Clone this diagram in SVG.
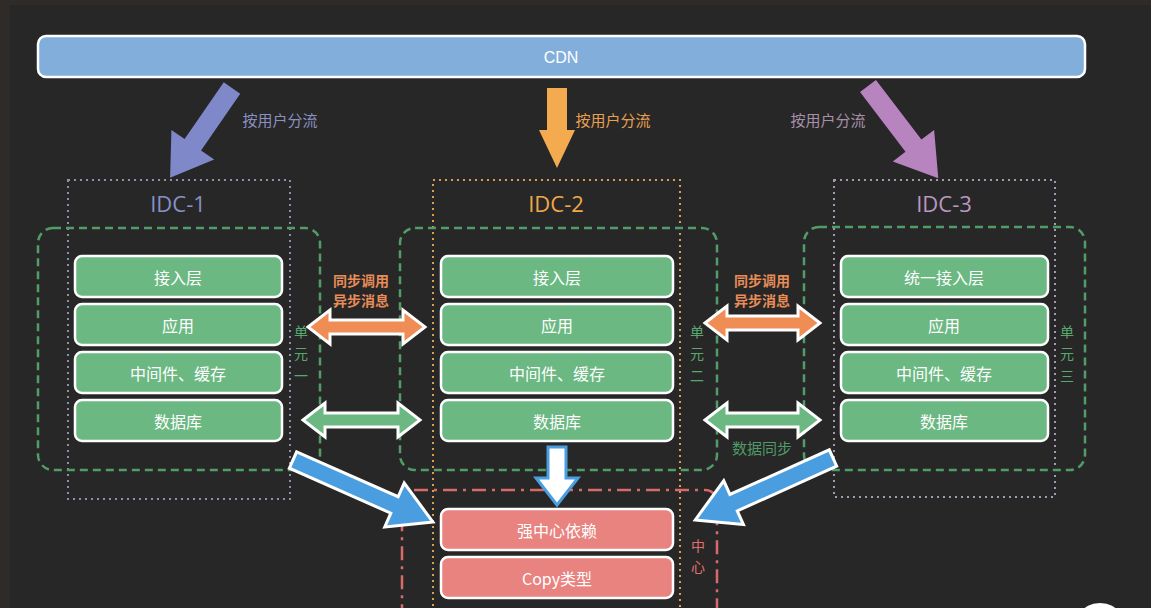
<svg xmlns="http://www.w3.org/2000/svg" width="1151" height="608" viewBox="0 0 1151 608">
<style>
text{font-family:"Noto Sans CJK SC","Liberation Sans",sans-serif;text-anchor:middle;dominant-baseline:central}
.layer{fill:#6bb882;stroke:#ffffff;stroke-width:2.5}
.red{fill:#e8837f;stroke:#ffffff;stroke-width:2.5}
.lbl{fill:#ffffff;font-size:16px}
.unit{fill:none;stroke:#519c68;stroke-width:2.5;stroke-dasharray:8 5}
.idc{fill:none;stroke-width:2;stroke-dasharray:2 4}
.idct{font-family:"Open Sans","Liberation Sans",sans-serif;font-size:22px}
.vt{font-size:14px}
.dbl{stroke:#ffffff;stroke-width:3;stroke-linejoin:miter}
.flow{font-size:15px}
.sync{font-size:14px;font-weight:bold;fill:#e88c58}
</style>
<rect x="0" y="0" width="1151" height="608" fill="#272727"/>
<rect x="0" y="0" width="1151" height="5" fill="#2f2b28"/>
<rect x="0" y="0" width="10" height="608" fill="#2f2b28"/>

<g id="cdn">
<rect x="38" y="36" width="1047" height="41" rx="8" fill="#82aedb" stroke="#ffffff" stroke-width="2.5"/>
<text x="561" y="57" class="lbl" style="font-family:'Liberation Sans',sans-serif">CDN</text>
</g>

<g id="idc1">
<rect x="68" y="180" width="222" height="319" class="idc" stroke="#8e90aa"/>
<text x="178" y="203" class="idct" fill="#8890c8">IDC-1</text>
</g>
<g id="idc2">
<rect x="433" y="180" width="247" height="440" class="idc" stroke="#d9a050"/>
<text x="556" y="203" class="idct" fill="#f0a848">IDC-2</text>
</g>
<g id="idc3">
<rect x="834" y="180" width="221" height="317" class="idc" stroke="#a898b0"/>
<text x="944" y="203" class="idct" fill="#b898c0">IDC-3</text>
</g>

<g id="unit1">
<rect x="38" y="228" width="282" height="242" rx="15" class="unit"/>
<text x="301" y="331" class="vt" fill="#5aa870">单</text>
<text x="301" y="353" class="vt" fill="#5aa870">元</text>
<text x="301" y="375" class="vt" fill="#5aa870">一</text>
</g>
<g id="unit2">
<rect x="400" y="228" width="317" height="242" rx="15" class="unit"/>
<text x="697" y="331" class="vt" fill="#5aa870">单</text>
<text x="697" y="353" class="vt" fill="#5aa870">元</text>
<text x="697" y="375" class="vt" fill="#5aa870">二</text>
</g>
<g id="unit3">
<rect x="804" y="227" width="281" height="243" rx="15" class="unit"/>
<text x="1067" y="331" class="vt" fill="#5aa870">单</text>
<text x="1067" y="353" class="vt" fill="#5aa870">元</text>
<text x="1067" y="375" class="vt" fill="#5aa870">三</text>
</g>
<g id="center">
<rect x="402" y="490" width="315" height="140" rx="12" fill="none" stroke="#d86a6a" stroke-width="2.5" stroke-dasharray="14 6 3 6"/>
<text x="698" y="545" class="vt" fill="#e07070">中</text>
<text x="698" y="566" class="vt" fill="#e07070">心</text>
</g>

<g id="u1-access"><rect x="75" y="256" width="207" height="41" rx="7" class="layer"/><text x="178" y="277" class="lbl">接入层</text></g>
<g id="u1-app"><rect x="75" y="304" width="207" height="41" rx="7" class="layer"/><text x="178" y="325" class="lbl">应用</text></g>
<g id="u1-mid"><rect x="75" y="352" width="207" height="41" rx="7" class="layer"/><text x="178" y="373" class="lbl">中间件、缓存</text></g>
<g id="u1-db"><rect x="75" y="400" width="207" height="41" rx="7" class="layer"/><text x="178" y="421" class="lbl">数据库</text></g>

<g id="u2-access"><rect x="441" y="256" width="232" height="41" rx="7" class="layer"/><text x="557" y="277" class="lbl">接入层</text></g>
<g id="u2-app"><rect x="441" y="304" width="232" height="41" rx="7" class="layer"/><text x="557" y="325" class="lbl">应用</text></g>
<g id="u2-mid"><rect x="441" y="352" width="232" height="41" rx="7" class="layer"/><text x="557" y="373" class="lbl">中间件、缓存</text></g>
<g id="u2-db"><rect x="441" y="400" width="232" height="41" rx="7" class="layer"/><text x="557" y="421" class="lbl">数据库</text></g>

<g id="u3-access"><rect x="841" y="256" width="207" height="41" rx="7" class="layer"/><text x="944" y="277" class="lbl">统一接入层</text></g>
<g id="u3-app"><rect x="841" y="304" width="207" height="41" rx="7" class="layer"/><text x="944" y="325" class="lbl">应用</text></g>
<g id="u3-mid"><rect x="841" y="352" width="207" height="41" rx="7" class="layer"/><text x="944" y="373" class="lbl">中间件、缓存</text></g>
<g id="u3-db"><rect x="841" y="400" width="207" height="41" rx="7" class="layer"/><text x="944" y="421" class="lbl">数据库</text></g>

<g id="c-strong"><rect x="441" y="509" width="232" height="41" rx="7" class="red"/><text x="557" y="530" class="lbl">强中心依赖</text></g>
<g id="c-copy"><rect x="441" y="557" width="232" height="41" rx="7" class="red"/><text x="557" y="578" class="lbl">Copy类型</text></g>

<g id="connectors">
<polygon transform="translate(232,88) rotate(124.6)" points="0,-10 69,-10 69,-26 109,0 69,26 69,10 0,10" fill="#7f88c8"/>
<polygon transform="translate(557,88) rotate(90)" points="0,-10 42,-10 42,-18 80,0 42,18 42,10 0,10" fill="#f4aa4f"/>
<polygon transform="translate(868,86) rotate(52.7)" points="0,-10 75,-10 75,-26 116,0 75,26 75,10 0,10" fill="#b884c0"/>

<polygon transform="translate(308,327)" points="0,0 22,-17 22,-7 95,-7 95,-17 117,0 95,17 95,7 22,7 22,17" fill="#ef8d55" class="dbl"/>
<polygon transform="translate(303,420)" points="0,0 22,-17 22,-7 95,-7 95,-17 117,0 95,17 95,7 22,7 22,17" fill="#6bb882" class="dbl"/>
<polygon transform="translate(705,323)" points="0,0 22,-17 22,-7 93,-7 93,-17 115,0 93,17 93,7 22,7 22,17" fill="#ef8d55" class="dbl"/>
<polygon transform="translate(705,420)" points="0,0 22,-17 22,-7 93,-7 93,-17 115,0 93,17 93,7 22,7 22,17" fill="#6bb882" class="dbl"/>

<polygon transform="translate(293,460) rotate(23.9)" points="0,-9 111,-9 111,-24 153,0 111,24 111,9 0,9" fill="#4a9ee0" class="dbl"/>
<polygon transform="translate(833,458) rotate(155.8)" points="0,-9 109,-9 109,-24 151,0 109,24 109,9 0,9" fill="#4a9ee0" class="dbl"/>
<polygon points="548,447 566,447 566,478 578,478 557,505 536,478 548,478" fill="#ffffff" stroke="#4a9ee0" stroke-width="3"/>

<text x="280" y="119" class="flow" fill="#8a90c0">按用户分流</text>
<text x="613" y="119" class="flow" fill="#e8a050">按用户分流</text>
<text x="828" y="119" class="flow" fill="#a890a8">按用户分流</text>
<text x="361" y="280" class="sync">同步调用</text>
<text x="361" y="300" class="sync">异步消息</text>
<text x="762" y="280" class="sync">同步调用</text>
<text x="762" y="300" class="sync">异步消息</text>
<text x="762" y="447" class="flow" fill="#4f9a66">数据同步</text>
</g>
<ellipse cx="1100" cy="612" rx="17" ry="9" fill="#ffffff"/>
</svg>
